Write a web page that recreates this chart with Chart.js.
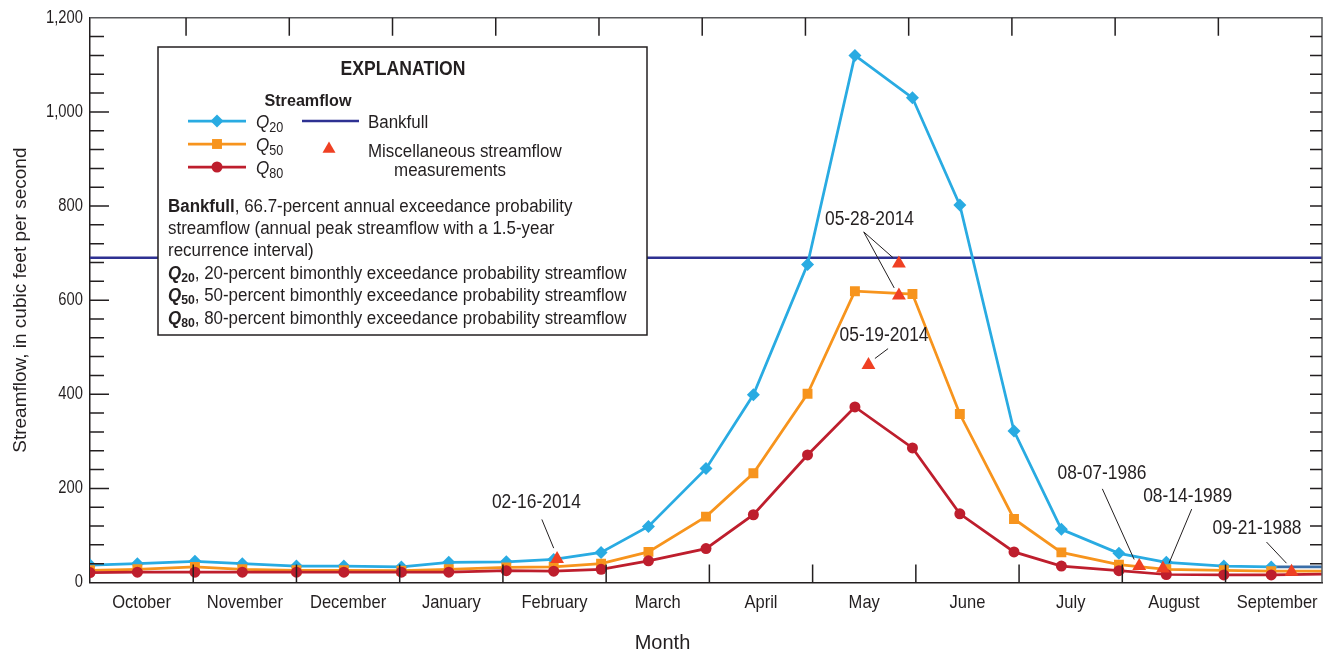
<!DOCTYPE html>
<html>
<head>
<meta charset="utf-8">
<script src="https://cdn.jsdelivr.net/npm/chart.js@4.4.1/dist/chart.umd.min.js"></script>
<style>
  html, body { margin: 0; padding: 0; background: #fff; }
  #wrap { width: 1330px; height: 655px; }
</style>
</head>
<body>
<div id="wrap"><canvas id="grafico"></canvas></div>
<script>
// meses do ano hidrologico (outubro a setembro)
const meses = ["October", "November", "December", "January", "February", "March",
  "April", "May", "June", "July", "August", "September"];

// datas dos pontos bimensais (o ultimo fecha o ano, sem marcador)
const datas = ["10-01", "10-15", "11-01", "11-15", "12-01", "12-15", "01-01", "01-15",
  "02-01", "02-15", "03-01", "03-15", "04-01", "04-15", "05-01", "05-15",
  "06-01", "06-15", "07-01", "07-15", "08-01", "08-15", "09-01", "09-15", "10-01"];

const q20 = [37, 40, 45, 40, 35, 35, 33, 43, 44, 49, 64, 119, 242, 399, 676, 1120,
  1030, 802, 322, 113, 62, 43, 35, 33, 33];
const q50 = [26, 28, 33, 28, 26, 26, 25, 28, 32, 33, 40, 65, 140, 232, 401, 619,
  613, 358, 135, 64, 38, 28, 26, 24, 24];
const q80 = [21, 22, 22, 22, 22, 22, 22, 22, 25, 24, 28, 46, 72, 144, 271, 373,
  286, 146, 65, 35, 25, 17, 16, 16, 18];

const bankfull = 690;

// medicoes avulsas de vazao
const medDatas = ["02-16-2014", "05-19-2014", "05-28-2014", "05-28-2014",
  "08-07-1986", "08-14-1989", "09-21-1988"];
const medValores = [50, 462, 678, 610, 35, 30, 23];

const FONTE = "'Liberation Sans', Arial, sans-serif";
const COR_TEXTO = "#231f20";
const COR_Q20 = "#29abe2";
const COR_Q50 = "#f7941d";
const COR_Q80 = "#be1e2d";
const COR_MED = "#ef4023";
const COR_BANK = "#2e3192";

const MES = 30.5;      // largura de cada mes no eixo (dias)
const X_MAX = 364;

// dias desde 1 de outubro
const inicioMes = { 10: 0, 11: 31, 12: 61, 1: 92, 2: 123, 3: 151, 4: 182, 5: 212, 6: 243, 7: 273, 8: 304, 9: 335 };
function diaAno(txt) {
  const p = txt.split("-").map(Number);
  return inicioMes[p[0]] + p[1] - 1;
}

let xs = [];
datas.forEach((d, i) => {
  let x = diaAno(d);
  if (i > 0 && x < xs[i - 1]) x += 365;
  xs.push(x);
});

const raios = (r) => xs.map((x, i) => (i === xs.length - 1 ? 0 : r));
const serie = (vals) => vals.map((v, i) => ({ x: xs[i], y: v }));

// rotulos das medicoes (posicao em dias / pes cubicos)
const rotulos = [
  { text: "02-16-2014", at: [131.9, 170], linhas: [[133.5, 134, 137.0, 73]] },
  { text: "05-28-2014", at: [230.3, 772], linhas: [[228.6, 745, 237.3, 690], [228.6, 745, 237.6, 626]] },
  { text: "05-19-2014", at: [234.6, 524], linhas: [[235.8, 497, 231.9, 476]] },
  { text: "08-07-1986", at: [299.0, 232], linhas: [[299.1, 199, 308.5, 49]] },
  { text: "08-14-1989", at: [324.3, 182], linhas: [[325.5, 156, 318.8, 41]] },
  { text: "09-21-1988", at: [344.8, 114], linhas: [[347.6, 86, 353.5, 41]] },
];

// fonte condensada simulada: texto comprimido na horizontal
let kAtual = null;
function fatorX(t) {
  if (kAtual !== null) return kAtual;
  if (meses.includes(t)) return 0.87;
  if (/^[\d,]+$/.test(t)) return 0.82;
  return 1;
}
const canvas = document.getElementById("grafico");
const ctx0 = canvas.getContext("2d");
const fillOrig = ctx0.fillText;
ctx0.fillText = function (t, x, y, mw) {
  const k = fatorX(String(t));
  if (k === 1) return fillOrig.call(this, t, x, y, mw);
  this.save();
  this.translate(x, y);
  this.scale(k, 1);
  fillOrig.call(this, t, 0, 0);
  this.restore();
};

function qSub(ctx, x, y, sub, size, bold, k) {
  ctx.font = (bold ? "bold " : "") + "italic " + size + "px " + FONTE;
  ctx.fillText("Q", x, y);
  const w = ctx.measureText("Q").width * k;
  ctx.font = (bold ? "bold " : "") + Math.round(size * 0.72) + "px " + FONTE;
  ctx.fillText(sub, x + w, y + size * 0.22);
  return x + w + ctx.measureText(sub).width * k;
}

const molduraPlugin = {
  id: "moldura",
  afterDatasetsDraw(chart) {
    const ctx = chart.ctx;
    const a = chart.chartArea;
    const sx = chart.scales.x;
    const sy = chart.scales.y;
    ctx.save();
    ctx.strokeStyle = "#58595b";
    ctx.lineWidth = 1.5;
    ctx.beginPath();
    ctx.moveTo(a.left, a.top);
    ctx.lineTo(a.right, a.top);
    ctx.lineTo(a.right, a.bottom);
    ctx.stroke();

    // marcas do eixo y (para dentro)
    ctx.strokeStyle = "#231f20";
    ctx.beginPath();
    sy.ticks.forEach((t) => {
      if (t.value <= 0 || t.value >= 1200) return;
      const y = sy.getPixelForValue(t.value);
      const len = t.value % 200 === 0 ? 19 : 14;
      ctx.moveTo(a.left, y);
      ctx.lineTo(a.left + len, y);
      ctx.moveTo(a.right, y);
      ctx.lineTo(a.right - 12, y);
    });
    // limites dos meses
    for (let i = 1; i < 12; i++) {
      const x = sx.getPixelForValue(i * MES);
      ctx.moveTo(x, a.bottom);
      ctx.lineTo(x, a.bottom - 18);
      const xt = sx.getPixelForValue(i * MES - 2.12);
      ctx.moveTo(xt, a.top);
      ctx.lineTo(xt, a.top + 18);
    }
    ctx.stroke();

    // rotulos das medicoes
    ctx.lineWidth = 1;
    ctx.strokeStyle = "#231f20";
    ctx.fillStyle = COR_TEXTO;
    ctx.font = "20px " + FONTE;
    ctx.textAlign = "center";
    ctx.textBaseline = "middle";
    kAtual = 0.87;
    rotulos.forEach((r) => {
      ctx.fillText(r.text, sx.getPixelForValue(r.at[0]), sy.getPixelForValue(r.at[1]));
      r.linhas.forEach((l) => {
        ctx.beginPath();
        ctx.moveTo(sx.getPixelForValue(l[0]), sy.getPixelForValue(l[1]));
        ctx.lineTo(sx.getPixelForValue(l[2]), sy.getPixelForValue(l[3]));
        ctx.stroke();
      });
    });

    // caixa de explicacao
    const bx = 158, by = 47, bw = 489, bh = 288;
    ctx.fillStyle = "#fff";
    ctx.fillRect(bx, by, bw, bh);
    ctx.strokeStyle = "#231f20";
    ctx.lineWidth = 1.5;
    ctx.strokeRect(bx, by, bw, bh);

    ctx.fillStyle = COR_TEXTO;
    ctx.textBaseline = "alphabetic";
    kAtual = 0.88;
    ctx.font = "bold 20px " + FONTE;
    ctx.fillText("EXPLANATION", 403, 75);
    kAtual = 0.95;
    ctx.font = "bold 17px " + FONTE;
    ctx.fillText("Streamflow", 308, 106);

    const itens = [
      { y: 121, cor: COR_Q20, estilo: "rectRot", raio: 6.5, sub: "20" },
      { y: 144, cor: COR_Q50, estilo: "rect", raio: 7, sub: "50" },
      { y: 167, cor: COR_Q80, estilo: "circle", raio: 5.5, sub: "80" },
    ];
    itens.forEach((it) => {
      ctx.strokeStyle = it.cor;
      ctx.fillStyle = it.cor;
      ctx.lineWidth = 2.75;
      ctx.beginPath();
      ctx.moveTo(188, it.y);
      ctx.lineTo(246, it.y);
      ctx.stroke();
      Chart.helpers.drawPoint(ctx, { pointStyle: it.estilo, radius: it.raio, rotation: 0, borderWidth: 0 }, 217, it.y);
      ctx.fillStyle = COR_TEXTO;
      ctx.textAlign = "left";
      kAtual = 0.9;
      qSub(ctx, 256, it.y + 6.5, it.sub, 19, false, 0.9);
    });

    ctx.strokeStyle = COR_BANK;
    ctx.lineWidth = 2.5;
    ctx.beginPath();
    ctx.moveTo(302, 121);
    ctx.lineTo(359, 121);
    ctx.stroke();
    ctx.fillStyle = COR_MED;
    Chart.helpers.drawPoint(ctx, { pointStyle: "triangle", radius: 7.5, rotation: 0, borderWidth: 0 }, 329, 149);

    const kT = 0.94;
    kAtual = kT;
    ctx.fillStyle = COR_TEXTO;
    ctx.font = "18px " + FONTE;
    ctx.textAlign = "left";
    ctx.fillText("Bankfull", 368, 127.5);
    ctx.fillText("Miscellaneous streamflow", 368, 157);
    ctx.textAlign = "center";
    ctx.fillText("measurements", 450, 175.5);

    ctx.textAlign = "left";
    ctx.font = "bold 18px " + FONTE;
    ctx.fillText("Bankfull", 168, 211.5);
    let w = ctx.measureText("Bankfull").width * kT;
    ctx.font = "18px " + FONTE;
    ctx.fillText(", 66.7-percent annual exceedance probability", 168 + w, 211.5);
    ctx.fillText("streamflow (annual peak streamflow with a 1.5-year", 168, 233.5);
    ctx.fillText("recurrence interval)", 168, 255.5);
    [["20", 278.5], ["50", 300.5], ["80", 323.5]].forEach(([s, y]) => {
      const fim = qSub(ctx, 168, y, s, 18, true, kT);
      ctx.font = "18px " + FONTE;
      ctx.fillText(", " + s + "-percent bimonthly exceedance probability streamflow", fim, y);
    });
    kAtual = null;
    ctx.restore();
  },
};

Chart.defaults.font.family = FONTE;
Chart.defaults.color = COR_TEXTO;

new Chart(canvas, {
  type: "line",
  data: {
    datasets: [
      {
        label: "Miscellaneous streamflow measurements",
        data: medDatas.map((d, i) => ({ x: diaAno(d), y: medValores[i] })),
        showLine: false,
        pointStyle: "triangle",
        pointRadius: 8,
        pointBackgroundColor: COR_MED,
        pointBorderWidth: 0,
      },
      {
        label: "Q80",
        data: serie(q80),
        borderColor: COR_Q80,
        backgroundColor: COR_Q80,
        borderWidth: 2.75,
        pointStyle: "circle",
        pointRadius: raios(5.5),
        pointBorderWidth: 0,
      },
      {
        label: "Q50",
        data: serie(q50),
        borderColor: COR_Q50,
        backgroundColor: COR_Q50,
        borderWidth: 2.75,
        pointStyle: "rect",
        pointRadius: raios(7),
        pointBorderWidth: 0,
      },
      {
        label: "Q20",
        data: serie(q20),
        borderColor: COR_Q20,
        backgroundColor: COR_Q20,
        borderWidth: 2.75,
        pointStyle: "rectRot",
        pointRadius: raios(6.5),
        pointBorderWidth: 0,
        segment: {
          borderColor: (c) => (c.p1DataIndex === xs.length - 1 ? "#3a6ea8" : undefined),
        },
      },
      {
        label: "Bankfull",
        data: [{ x: 0, y: bankfull }, { x: X_MAX, y: bankfull }],
        borderColor: COR_BANK,
        borderWidth: 2.5,
        pointRadius: 0,
      },
    ],
  },
  options: {
    responsive: true,
    maintainAspectRatio: false,
    animation: false,
    layout: { padding: { top: 14, right: 5, left: 0, bottom: 0 } },
    plugins: {
      legend: { display: false },
      tooltip: { enabled: false },
      title: {
        display: true,
        text: "Month",
        position: "bottom",
        font: { size: 20, weight: "normal" },
        color: COR_TEXTO,
        padding: 0,
      },
    },
    scales: {
      x: {
        type: "linear",
        min: 0,
        max: X_MAX,
        afterBuildTicks: (s) => {
          s.ticks = meses.map((m, i) => ({ value: (i + 0.5) * MES }));
        },
        afterFit: (s) => {
          s.height = 48.5;
          s.paddingLeft = 0;
          s.paddingRight = 0;
        },
        ticks: {
          callback: (v, i) => meses[i],
          font: { size: 19 },
          padding: 9,
          maxRotation: 0,
          autoSkip: false,
        },
        grid: { display: false, drawTicks: false },
        border: { display: true, color: "#231f20", width: 1.5 },
      },
      y: {
        min: 0,
        max: 1200,
        afterFit: (s) => { s.width = 90; },
        ticks: {
          stepSize: 40,
          autoSkip: false,
          font: { size: 18 },
          padding: 7,
          callback: (v) => (v % 200 === 0 ? v.toLocaleString("en-US") : ""),
        },
        grid: { display: false, drawTicks: false },
        border: { display: true, color: "#231f20", width: 1.5 },
        title: {
          display: true,
          text: "Streamflow, in cubic feet per second",
          font: { size: 19 },
          padding: { top: 9, bottom: 0 },
        },
      },
    },
  },
  plugins: [molduraPlugin],
});
</script>
</body>
</html>
